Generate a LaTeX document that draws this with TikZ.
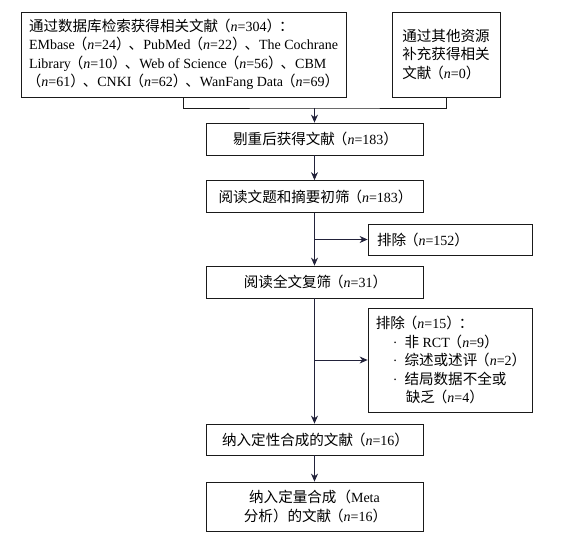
\documentclass[tikz,border=0pt]{standalone}
\usepackage{fontspec}
\setmainfont{Liberation Serif}
\newfontfamily\cjk[Scale=1.04]{Noto Sans CJK SC}
\usetikzlibrary{arrows.meta, positioning}
\definecolor{boxline}{HTML}{1A1A1A}
\definecolor{arrline}{HTML}{22223A}
\newcommand{\zh}[1]{{\cjk #1}}
\newcommand{\nval}[1]{\kern-0.15em\zh{（}\textit{n}=#1\zh{）}\kern-0.15em}
\tikzset{
  box/.style    = {rectangle, draw=boxline, line width=0.8pt, align=center,
                   font=\fontsize{14}{18.5}\selectfont, inner sep=0pt,
                   minimum width=217pt, minimum height=32pt},
  leftbox/.style= {box, align=left},
  flow/.style   = {-{Stealth[length=8pt, width=7pt]}, line width=0.8pt, draw=arrline},
  joinline/.style={line width=0.8pt, draw=boxline},
}

\begin{document}
\begin{tikzpicture}[x=1pt, y=-1pt]
        \useasboundingbox (0,0) rectangle (578,539);
        % sources
        \node[leftbox, minimum width=325pt, minimum height=85pt] (db) at (183.5,54.5)
          {\zh{通过数据库检索获得相关文献}\nval{304}\zh{：}\\
           EMbase\nval{24}\zh{、}PubMed\nval{22}\zh{、}The Cochrane\\
           Library\nval{10}\zh{、}Web of Science\nval{56}\zh{、}CBM\\
           \nval{61}\zh{、}CNKI\nval{62}\zh{、}WanFang Data\nval{69}};
        \node[leftbox, minimum width=108pt, minimum height=85pt] (other) at (446,54.5)
          {\zh{通过其他资源}\\\zh{补充获得相关}\\\zh{文献}\nval{0}};
        \coordinate (m) at (314.5,108);
        % main column
        \node[box] (dedup)  at (314.5,139)   {\zh{剔重后获得文献}\nval{183}};
        \node[box] (title)  at (314.5,196.5) {\zh{阅读文题和摘要初筛}\nval{183}};
        \node[box] (full)   at (314.5,282)   {\zh{阅读全文复筛}\nval{31}};
        \node[box, minimum height=31pt] (qual) at (314.5,439.5) {\zh{纳入定性合成的文献}\nval{16}};
        \node[box, minimum height=49pt] (meta) at (314.5,506.5)
          {\zh{纳入定量合成（}Meta\\\zh{分析）的文献}\nval{16}};
        % exclusions
        \node[leftbox, text width=146pt, minimum width=164pt, minimum height=31pt] (ex1) at (450,239.5)
          {\zh{排除}\nval{152}};
        \node[leftbox, minimum width=164pt, minimum height=104pt] (ex2) at (450,360)
          {\zh{排除}\nval{15}\zh{：}\\
           \hspace*{17pt}·\hspace{7pt}\zh{非} RCT\nval{9}\\
           \hspace*{17pt}·\hspace{7pt}\zh{综述或述评}\nval{2}\\
           \hspace*{17pt}·\hspace{7pt}\zh{结局数据不全或}\\
           \hspace*{30pt}\zh{缺乏}\nval{4}};
        % connectors
        \draw[joinline] (db.south) |- (m) -| (other.south);
        \draw[flow] (m) -- (dedup.north);
        \draw[flow] (dedup) -- (title);
        \draw[flow] (title) -- (full);
        \draw[flow] (full) -- (qual);
        \draw[flow] (qual) -- (meta);
        \draw[flow] (title.south |- ex1.west) -- (ex1.west);
        \draw[flow] (full.south |- ex2.west) -- (ex2.west);
    \end{tikzpicture}
\end{document}
